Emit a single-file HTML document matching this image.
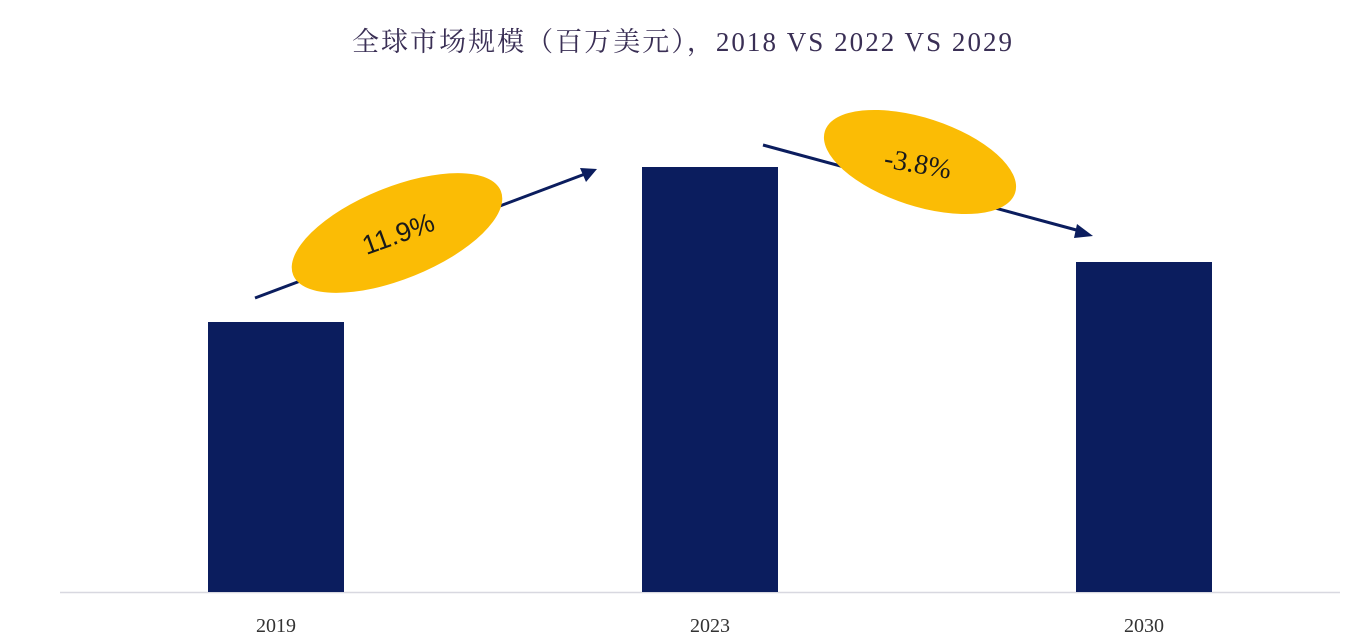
<!DOCTYPE html>
<html><head><meta charset="utf-8"><style>
html,body{margin:0;padding:0;background:#fff;}
svg{display:block;}
</style></head><body>
<svg width="1362" height="644" viewBox="0 0 1362 644" xmlns="http://www.w3.org/2000/svg">
<rect width="1362" height="644" fill="#fff"/>
<text x="352" y="51" textLength="660" lengthAdjust="spacing" font-family="Liberation Serif, Noto Serif CJK SC, serif" font-size="27" fill="#3a2f55">全球市场规模（百万美元），2018 VS 2022 VS 2029</text>
<line x1="60" y1="592.5" x2="1340" y2="592.5" stroke="#d8d8e0" stroke-width="1.5"/>
<rect x="208" y="322" width="136" height="270" fill="#0b1d5e"/>
<rect x="642" y="167" width="136" height="425" fill="#0b1d5e"/>
<rect x="1076" y="262" width="136" height="330" fill="#0b1d5e"/>
<g font-family="Liberation Serif, serif" font-size="20" fill="#333" text-anchor="middle">
<text x="276" y="632">2019</text><text x="710" y="632">2023</text><text x="1144" y="632">2030</text>
</g>
<line x1="255" y1="298" x2="585" y2="174" stroke="#0b1d5e" stroke-width="3"/>
<polygon points="597,169 580,168 586,182" fill="#0b1d5e"/>
<line x1="763" y1="145" x2="1080" y2="231" stroke="#0b1d5e" stroke-width="3"/>
<polygon points="1093,236 1077,224 1074,238" fill="#0b1d5e"/>
<ellipse cx="397" cy="233" rx="112" ry="46" transform="rotate(-22 397 233)" fill="#fbbc05"/>
<ellipse cx="920" cy="162" rx="100" ry="44" transform="rotate(18 920 162)" fill="#fbbc05"/>
<text x="398" y="243" text-anchor="middle" font-family="Liberation Sans, sans-serif" font-size="27" fill="#1a1a1a" transform="rotate(-20 398 233)">11.9%</text>
<text x="918" y="173" text-anchor="middle" font-family="Liberation Serif, serif" font-size="28" fill="#1a1a1a" transform="rotate(10 918 163)">-3.8%</text>
</svg>
</body></html>
